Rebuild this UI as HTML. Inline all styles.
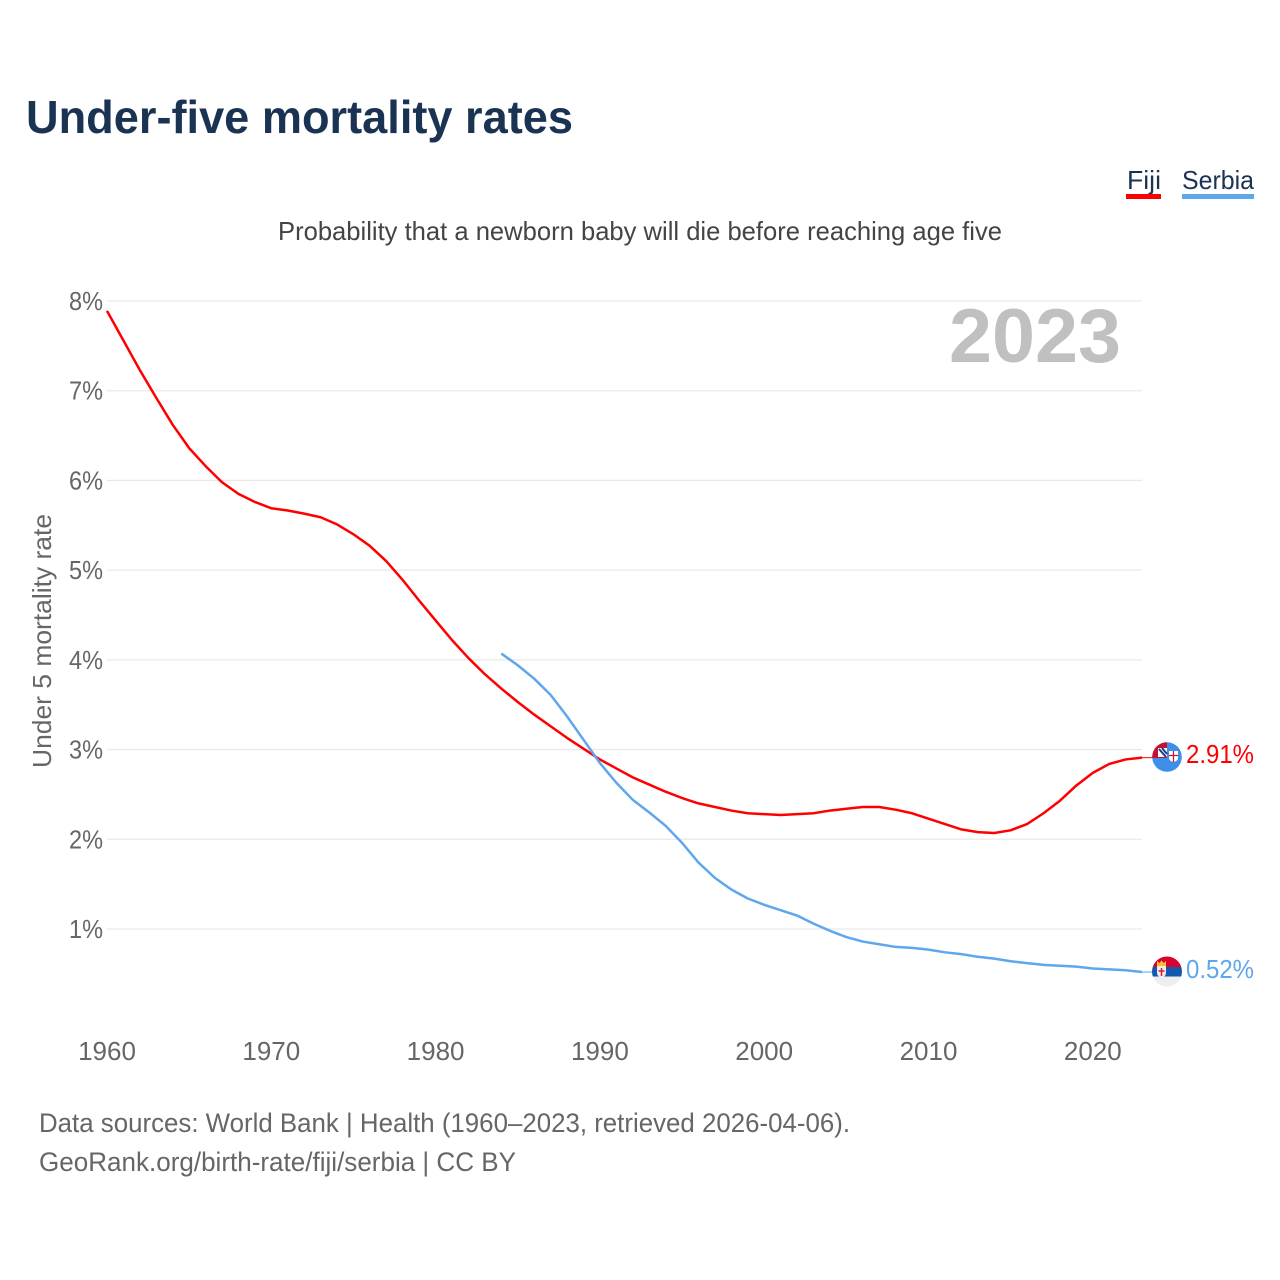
<!DOCTYPE html>
<html>
<head>
<meta charset="utf-8">
<title>Under-five mortality rates</title>
<style>
html,body{margin:0;padding:0;background:#fff;width:1280px;height:1280px;overflow:hidden}
svg{display:block}
text{font-family:"Liberation Sans",sans-serif}
</style>
</head>
<body>
<svg id="chart" width="1280" height="1280" viewBox="0 0 1280 1280" xmlns="http://www.w3.org/2000/svg">
<text x="26" y="133" font-size="46" font-weight="700" fill="#1b3353" textLength="547" lengthAdjust="spacingAndGlyphs">Under-five mortality rates</text>
<text x="278" y="240" font-size="26" fill="#444444" textLength="724" lengthAdjust="spacingAndGlyphs">Probability that a newborn baby will die before reaching age five</text>

<g>
<text x="1127" y="189" font-size="26" fill="#1b3353" textLength="34" lengthAdjust="spacingAndGlyphs">Fiji</text>
<rect x="1126" y="194" width="35" height="5" fill="#ff0000"/>
</g>
<g>
<text x="1182" y="189" font-size="26" fill="#1b3353" textLength="72" lengthAdjust="spacingAndGlyphs">Serbia</text>
<rect x="1182" y="194" width="72" height="5" fill="#5ea6ee"/>
</g>

<g id="grid"></g>
<g id="yticks"></g>
<g id="xticks"></g>

<text transform="translate(51,641) rotate(-90)" text-anchor="middle" font-size="26" fill="#666666" textLength="254" lengthAdjust="spacingAndGlyphs">Under 5 mortality rate</text>
<text x="949" y="362" font-size="76" font-weight="700" fill="#c0c0c0" textLength="172" lengthAdjust="spacingAndGlyphs">2023</text>

<g id="series"></g>

<defs>
<clipPath id="fiji-clip"><circle cx="1167" cy="757" r="14.800"/></clipPath>
<clipPath id="serbia-clip"><circle cx="1167" cy="971.500" r="15"/></clipPath>
</defs>

<g clip-path="url(#fiji-clip)">
<rect x="1150" y="740" width="34" height="36" fill="#3d8fe8"/>
<rect x="1151" y="742" width="16" height="16" fill="#c8102e"/>
<rect x="1158" y="748" width="9" height="9" fill="#ffffff"/>
<path d="M1159 749 L1166 757 M1162 748 L1167 754" stroke="#1b3a8c" stroke-width="2"/>
<path d="M1169 751 h9 v7 q0 3 -4.500 4 q-4.500 -1 -4.500 -4 z" fill="#ffffff"/>
<path d="M1173.500 751 v11 M1169 755.500 h9" stroke="#d0102e" stroke-width="1.200"/>
</g>
<g clip-path="url(#serbia-clip)">
<rect x="1150" y="955" width="34" height="12" fill="#d8042f"/>
<rect x="1150" y="967" width="34" height="9.500" fill="#1259ae"/>
<rect x="1150" y="976.500" width="34" height="11" fill="#eeeeee"/>
<path d="M1157 961 l2.500 2 l2 -2.500 l2 2.500 l2.500 -2 v5 h-9 z" fill="#f2c230"/>
<path d="M1157 966 h9 v7 q0 3 -4.500 5 q-4.500 -2 -4.500 -5 z" fill="#f6e8e8"/>
<path d="M1161.500 968 v8 M1158.500 971 h6" stroke="#c8203a" stroke-width="1.500"/>
</g>

<text id="fiji-value" x="1186" y="763" font-size="26" fill="#ff0000" textLength="68" lengthAdjust="spacingAndGlyphs">2.91%</text>
<text id="serbia-value" x="1186" y="978" font-size="26" fill="#5ea6ee" textLength="68" lengthAdjust="spacingAndGlyphs">0.52%</text>

<text x="39" y="1132" font-size="26.500" fill="#666666" textLength="811" lengthAdjust="spacingAndGlyphs">Data sources: World Bank | Health (1960–2023, retrieved 2026-04-06).</text>
<text x="39" y="1171" font-size="26.500" fill="#666666" textLength="477" lengthAdjust="spacingAndGlyphs">GeoRank.org/birth-rate/fiji/serbia | CC BY</text>
</svg>
<script>
const fijiStartYear = 1960;
const fijiValues = [7.89,7.56,7.23,6.92,6.62,6.36,6.16,5.98,5.85,5.76,5.69,5.665,5.63,5.59,5.51,5.40,5.27,5.10,4.89,4.66,4.44,4.22,4.02,3.84,3.68,3.53,3.39,3.26,3.13,3.01,2.89,2.79,2.69,2.61,2.53,2.46,2.40,2.36,2.32,2.29,2.28,2.27,2.28,2.29,2.32,2.34,2.36,2.36,2.33,2.29,2.23,2.17,2.11,2.08,2.07,2.10,2.17,2.29,2.43,2.60,2.74,2.84,2.89,2.91];
const serbiaStartYear = 1984;
const serbiaValues = [4.07,3.94,3.79,3.61,3.37,3.11,2.85,2.63,2.44,2.30,2.15,1.96,1.74,1.57,1.44,1.34,1.27,1.21,1.15,1.06,0.98,0.91,0.86,0.83,0.80,0.79,0.77,0.74,0.72,0.69,0.67,0.64,0.62,0.60,0.59,0.58,0.56,0.55,0.54,0.52];
const yTickValues = [1,2,3,4,5,6,7,8];
const xTickYears = [1960,1970,1980,1990,2000,2010,2020];

const NS = 'http://www.w3.org/2000/svg';
function xScale(year){ return 107 + (year - 1960) * 16.43; }
function yScale(v){ return 1018.7 - v * 89.71; }

const gridGroup = document.getElementById('grid');
const yGroup = document.getElementById('yticks');
const xGroup = document.getElementById('xticks');
const seriesGroup = document.getElementById('series');

yTickValues.forEach(function(v){
  const line = document.createElementNS(NS, 'line');
  
  
  line.setAttribute('x1', 107);
  line.setAttribute('x2', 1142);
  line.setAttribute('y1', yScale(v));
  line.setAttribute('y2', yScale(v));
  line.setAttribute('stroke', '#e9e9e9');
  line.setAttribute('stroke-width', '1.300');
  gridGroup.appendChild(line);
  const t = document.createElementNS(NS, 'text');
  
  
  t.setAttribute('x', 69);
  t.setAttribute('y', yScale(v) + 9);
  t.setAttribute('font-size', '26');
  t.setAttribute('fill', '#666666');
  t.setAttribute('textLength', '34');
  t.setAttribute('lengthAdjust', 'spacingAndGlyphs');
  t.textContent = v + '%';
  yGroup.appendChild(t);
});

xTickYears.forEach(function(y){
  const t = document.createElementNS(NS, 'text');
  
  
  t.setAttribute('x', xScale(y));
  t.setAttribute('y', 1060);
  t.setAttribute('text-anchor', 'middle');
  t.setAttribute('font-size', '26');
  t.setAttribute('fill', '#666666');
  t.textContent = y;
  xGroup.appendChild(t);
});

function seriesPoints(startYear, values){
  return values.map(function(v, i){
    return xScale(startYear + i).toFixed(2) + ',' + yScale(v).toFixed(2);
  }).join(' ');
}

const fijiLine = document.createElementNS(NS, 'polyline');


fijiLine.setAttribute('points', seriesPoints(fijiStartYear, fijiValues));
fijiLine.setAttribute('fill', 'none');
fijiLine.setAttribute('stroke', '#ff0000');
fijiLine.setAttribute('stroke-width', '2.500');
fijiLine.setAttribute('stroke-linejoin', 'round');
seriesGroup.appendChild(fijiLine);

const serbiaLine = document.createElementNS(NS, 'polyline');


serbiaLine.setAttribute('points', seriesPoints(serbiaStartYear, serbiaValues));
serbiaLine.setAttribute('fill', 'none');
serbiaLine.setAttribute('stroke', '#5ea6ee');
serbiaLine.setAttribute('stroke-width', '2.500');
serbiaLine.setAttribute('stroke-linejoin', 'round');
seriesGroup.appendChild(serbiaLine);

const fijiLast = fijiValues[fijiValues.length - 1];
const serbiaLast = serbiaValues[serbiaValues.length - 1];

const fijiLeader = document.createElementNS(NS, 'line');


fijiLeader.setAttribute('x1', 1142);
fijiLeader.setAttribute('x2', 1153);
fijiLeader.setAttribute('y1', yScale(fijiLast));
fijiLeader.setAttribute('y2', yScale(fijiLast));
fijiLeader.setAttribute('stroke', '#ff0000');
fijiLeader.setAttribute('stroke-width', '1');
seriesGroup.appendChild(fijiLeader);

const serbiaLeader = document.createElementNS(NS, 'line');


serbiaLeader.setAttribute('x1', 1142);
serbiaLeader.setAttribute('x2', 1153);
serbiaLeader.setAttribute('y1', yScale(serbiaLast));
serbiaLeader.setAttribute('y2', yScale(serbiaLast));
serbiaLeader.setAttribute('stroke', '#5ea6ee');
serbiaLeader.setAttribute('stroke-width', '1');
seriesGroup.appendChild(serbiaLeader);

document.getElementById('fiji-value').textContent = fijiLast.toFixed(2) + '%';
document.getElementById('serbia-value').textContent = serbiaLast.toFixed(2) + '%';
</script>
</body>
</html>
